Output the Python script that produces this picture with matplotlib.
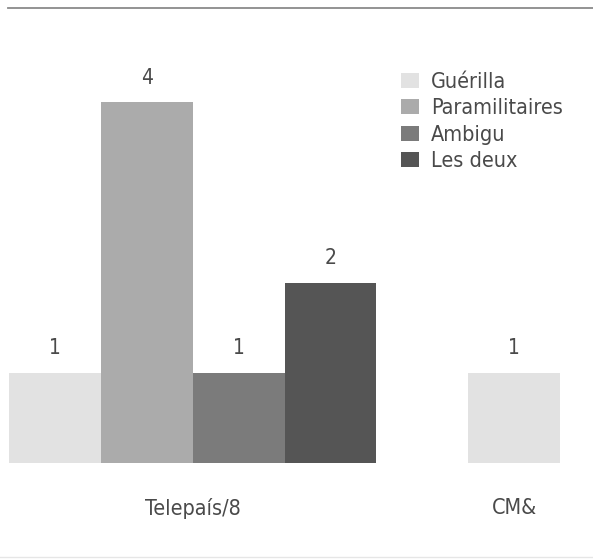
import matplotlib
matplotlib.use("Agg")
import matplotlib.pyplot as plt
from matplotlib.lines import Line2D

plt.rcParams['font.family'] = ['DejaVu Sans']
plt.rcParams['font.stretch'] = 'condensed'

# data
groups = ["Telepaís/8", "CM&"]
series = ["Guérilla", "Paramilitaires", "Ambigu", "Les deux"]
guerilla = [1, 1]
paramilitaires = [4, 0]
ambigu = [1, 0]
les_deux = [2, 0]
values = [guerilla, paramilitaires, ambigu, les_deux]

colors = ["#e2e2e2", "#ababab", "#7b7b7b", "#555555"]
text_color = "#4a4a4a"

fig = plt.figure(figsize=(5.93, 5.60), dpi=100)
ax = fig.add_axes([9 / 593, (560 - 463) / 560, 551 / 593, 361 / 560])

# lay out bars: skip zero values, leave a gap between groups
pos = 0
group_centers = []
for g in range(len(groups)):
    start = pos
    for s in range(len(series)):
        v = values[s][g]
        if v == 0:
            continue
        ax.bar(pos, v, width=1.0, color=colors[s], linewidth=0)
        ax.text(pos, v + 0.27, str(v), ha='center', va='center',
                fontsize=15, color=text_color, clip_on=False)
        pos += 1
    group_centers.append((start + pos - 1) / 2)
    pos += 1

ax.set_xlim(-0.5, 5.5)
ax.set_ylim(0, 4)
ax.axis('off')

for c, name in zip(group_centers, groups):
    ax.text(c, -0.5, name, ha='center', va='center', fontsize=15.5,
            color=text_color, clip_on=False)

# legend
leg_handles = [plt.Rectangle((0, 0), 1, 1, color=c, linewidth=0) for c in colors]
leg = fig.legend(leg_handles, series, loc='upper left',
                 bbox_to_anchor=(401 / 593, 1 - 72 / 560), frameon=False,
                 fontsize=15.5, handlelength=0.85, handleheight=0.7,
                 handletextpad=0.55, labelspacing=0.3, borderpad=0,
                 borderaxespad=0)
for t in leg.get_texts():
    t.set_color(text_color)

# rules at top and bottom
fig.add_artist(Line2D([8 / 593, 1], [1 - 8 / 560] * 2, color="#8a8a8a", linewidth=1.3))
fig.add_artist(Line2D([0, 1], [1 - 557 / 560] * 2, color="#e6e6e6", linewidth=1.0))

fig.savefig("out.png", dpi=100, facecolor='white')
